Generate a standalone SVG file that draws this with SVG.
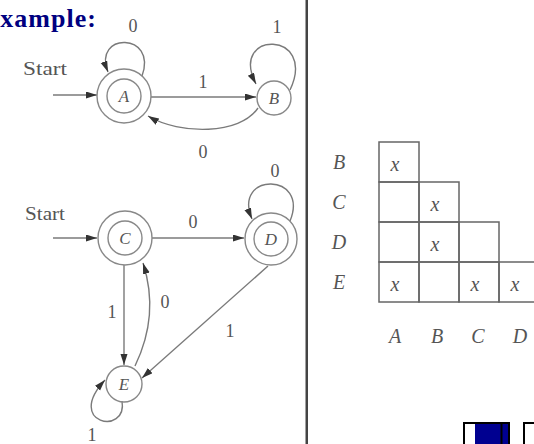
<svg xmlns="http://www.w3.org/2000/svg" width="534" height="444" viewBox="0 0 534 444">
<defs>
<marker id="ah" markerUnits="userSpaceOnUse" markerWidth="12" markerHeight="8" refX="11" refY="3.5" orient="auto">
<path d="M0,0 L11,3.5 L0,7 z" fill="#333"/>
</marker>
<style>
.edge{fill:none;stroke:#7a7a7a;stroke-width:1.4}
.circ{fill:none;stroke:#888;stroke-width:1.4}
.lbl{font-family:"Liberation Serif",serif;font-size:18px;fill:#555;text-anchor:middle}
.st{font-family:"Liberation Serif",serif;font-size:18px;fill:#555}
.nm{font-family:"Liberation Serif",serif;font-style:italic;font-size:17px;fill:#555;text-anchor:middle}
.tl{font-family:"Liberation Serif",serif;font-style:italic;font-size:20px;fill:#555;text-anchor:middle}
.cell{fill:none;stroke:#666;stroke-width:1.5}
</style>
</defs>
<rect width="534" height="444" fill="#fff"/>
<text x="-18" y="27" font-family="Liberation Serif,serif" font-weight="bold" font-size="26" fill="#000080" letter-spacing="1">Example:</text>
<rect x="305.5" y="0" width="2.5" height="444" fill="#444"/>

<g id="connectors">
<line class="edge" x1="53" y1="95" x2="97" y2="95" marker-end="url(#ah)"/>
<path class="edge" d="M142,76 C158,32 92,32 108,72" marker-end="url(#ah)"/>
<line class="edge" x1="151" y1="97" x2="256" y2="97" marker-end="url(#ah)"/>
<path class="edge" d="M290,90 C318,30 228,30 256,84" marker-end="url(#ah)"/>
<path class="edge" d="M258,108 C240,135 180,135 148,116" marker-end="url(#ah)"/>
<line class="edge" x1="53" y1="238" x2="97" y2="238" marker-end="url(#ah)"/>
<line class="edge" x1="152" y1="238" x2="244" y2="238" marker-end="url(#ah)"/>
<path class="edge" d="M290,221 C310,172 232,172 252,219" marker-end="url(#ah)"/>
<line class="edge" x1="124" y1="265" x2="124" y2="365" marker-end="url(#ah)"/>
<path class="edge" d="M135,366 C150,335 155,300 143,263" marker-end="url(#ah)"/>
<line class="edge" x1="268" y1="266" x2="142" y2="378" marker-end="url(#ah)"/>
<path class="edge" d="M122,401 C128,436 64,424 105,380" marker-end="url(#ah)"/>
<text class="lbl" x="133" y="32">0</text>
<text class="lbl" x="203" y="88">1</text>
<text class="lbl" x="277" y="33">1</text>
<text class="lbl" x="203" y="158">0</text>
<text class="lbl" x="275" y="177">0</text>
<text class="lbl" x="193" y="228">0</text>
<text class="lbl" x="112" y="318">1</text>
<text class="lbl" x="165" y="308">0</text>
<text class="lbl" x="230" y="337">1</text>
<text class="lbl" x="92" y="441">1</text>
<text class="st" x="23" y="75" textLength="44" lengthAdjust="spacingAndGlyphs">Start</text>
<text class="st" x="25" y="220" textLength="40" lengthAdjust="spacingAndGlyphs">Start</text>
</g>

<g id="A">
<circle class="circ" cx="124" cy="96" r="27"/>
<circle class="circ" cx="124" cy="96" r="17"/>
<text class="nm" x="124" y="102">A</text>
</g>
<g id="B">
<circle class="circ" cx="274" cy="98" r="17"/>
<text class="nm" x="274" y="104">B</text>
</g>
<g id="C">
<circle class="circ" cx="125" cy="238" r="27"/>
<circle class="circ" cx="125" cy="238" r="17"/>
<text class="nm" x="125" y="244">C</text>
</g>
<g id="D">
<circle class="circ" cx="271" cy="239" r="26"/>
<circle class="circ" cx="271" cy="239" r="17"/>
<text class="nm" x="271" y="245">D</text>
</g>
<g id="E">
<circle class="circ" cx="124" cy="384" r="18"/>
<text class="nm" x="124" y="390">E</text>
</g>

<g id="table">
<rect class="cell" x="379" y="142" width="40" height="40"/>
<rect class="cell" x="379" y="182" width="40" height="40"/>
<rect class="cell" x="419" y="182" width="40" height="40"/>
<rect class="cell" x="379" y="222" width="40" height="40"/>
<rect class="cell" x="419" y="222" width="40" height="40"/>
<rect class="cell" x="459" y="222" width="40" height="40"/>
<rect class="cell" x="379" y="262" width="40" height="40"/>
<rect class="cell" x="419" y="262" width="40" height="40"/>
<rect class="cell" x="459" y="262" width="40" height="40"/>
<rect class="cell" x="499" y="262" width="40" height="40"/>
<text class="tl" x="339" y="169">B</text>
<text class="tl" x="339" y="209">C</text>
<text class="tl" x="339" y="249">D</text>
<text class="tl" x="339" y="289">E</text>
<text class="tl" x="395" y="171">x</text>
<text class="tl" x="435" y="211">x</text>
<text class="tl" x="435" y="251">x</text>
<text class="tl" x="395" y="291">x</text>
<text class="tl" x="475" y="291">x</text>
<text class="tl" x="515" y="291">x</text>
<text class="tl" x="395" y="343">A</text>
<text class="tl" x="437" y="343">B</text>
<text class="tl" x="478" y="343">C</text>
<text class="tl" x="520" y="343">D</text>
</g>

<g id="nav">
<rect x="464" y="423" width="45" height="24" fill="#fff" stroke="#000" stroke-width="2"/>
<rect x="475" y="424" width="33" height="22" fill="#000090"/>
<line x1="501.5" y1="423" x2="501.5" y2="444" stroke="#000" stroke-width="2"/>
<rect x="524" y="423" width="14" height="24" fill="#fff" stroke="#000" stroke-width="2"/>
</g>
</svg>
